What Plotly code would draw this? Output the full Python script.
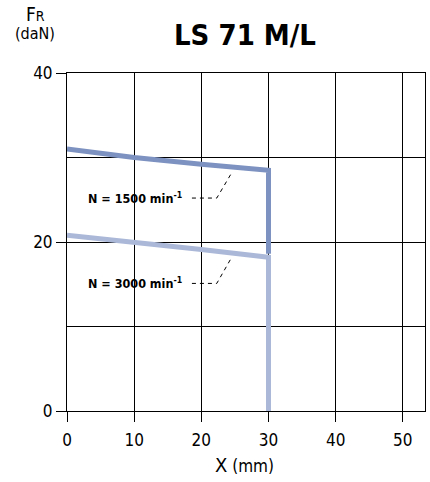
import plotly.graph_objects as go

x_pts = [0, 10, 20, 30]
fr_1500 = [31.0, 30.0, 29.2, 28.5]
fr_3000 = [20.8, 20.0, 19.1, 18.2]
x_limit = 30
fr_1500_end = 18.6
fr_3000_end = 0
labels = ["<b>N = 1500 min<sup>-1</sup></b>", "<b>N = 3000 min<sup>-1</sup></b>"]
label_y = [25.2, 15.1]
leader_tip_y = [28.3, 18.3]

FONT = "Liberation Sans Narrow, Arial Narrow, DejaVu Sans Condensed, Liberation Sans, Arial, sans-serif"
c_dark = "#7d92c0"
c_light = "#abb8d8"

fig = go.Figure()
fig.add_trace(go.Scatter(x=x_pts + [x_limit], y=fr_3000 + [fr_3000_end], mode="lines",
                         line=dict(color=c_light, width=5), showlegend=False, hoverinfo="skip"))
fig.add_trace(go.Scatter(x=x_pts + [x_limit], y=fr_1500 + [fr_1500_end], mode="lines",
                         line=dict(color=c_dark, width=5), showlegend=False, hoverinfo="skip"))

for lab, ly, ty in zip(labels, label_y, leader_tip_y):
    fig.add_trace(go.Scatter(x=[18.6, 22.3, 24.6], y=[ly, ly, ty], mode="lines",
                             line=dict(color="black", width=1, dash="4px,4px"),
                             showlegend=False, hoverinfo="skip"))
    fig.add_annotation(x=17.4, y=ly, text=lab, showarrow=False, xanchor="right", yanchor="middle",
                       font=dict(family=FONT, size=12.5, color="black"))

fig.add_annotation(xref="paper", yref="paper", x=0.497, y=1.112, text="<b>LS 71 M/L</b>",
                   showarrow=False, xanchor="center", yanchor="middle",
                   font=dict(family=FONT, size=29, color="black"))
fig.add_annotation(xref="paper", yref="paper", x=-0.089, y=1.175,
                   text="F<span style='font-size:14px'>R</span>",
                   showarrow=False, xanchor="center", yanchor="middle",
                   font=dict(family=FONT, size=19, color="black"))
fig.add_annotation(xref="paper", yref="paper", x=-0.089, y=1.118, text="(daN)",
                   showarrow=False, xanchor="center", yanchor="middle",
                   font=dict(family=FONT, size=16, color="black"))
fig.add_annotation(xref="paper", yref="paper", x=0.497, y=-0.16,
                   text="<span style='font-size:20px'>X</span> (mm)",
                   showarrow=False, xanchor="center", yanchor="middle",
                   font=dict(family=FONT, size=17, color="black"))

fig.update_layout(
    width=430, height=482,
    margin=dict(l=67, r=5, t=73, b=71),
    paper_bgcolor="white", plot_bgcolor="white",
    font=dict(family=FONT, size=17, color="black"),
    xaxis=dict(range=[0, 53.3], tickvals=[0, 10, 20, 30, 40, 50], showgrid=True,
               gridcolor="black", gridwidth=1, showline=True, linecolor="black", linewidth=1,
               mirror=True, ticks="outside", ticklen=10, tickcolor="black", zeroline=False,
               ticklabelstandoff=4, tickfont=dict(family=FONT, size=17)),
    yaxis=dict(range=[0, 40], tickvals=[0, 20, 40], showgrid=True, gridcolor="black", gridwidth=1,
               showline=True, linecolor="black", linewidth=1, mirror=True, ticks="outside",
               ticklen=10, tickcolor="black", zeroline=False,
               minor=dict(dtick=10, showgrid=True, gridcolor="black", gridwidth=1),
               tickfont=dict(family=FONT, size=17)),
)

fig.write_html("out.html", config={"displayModeBar": False},
               post_script="document.body.style.margin='0';document.body.style.overflow='hidden';")
